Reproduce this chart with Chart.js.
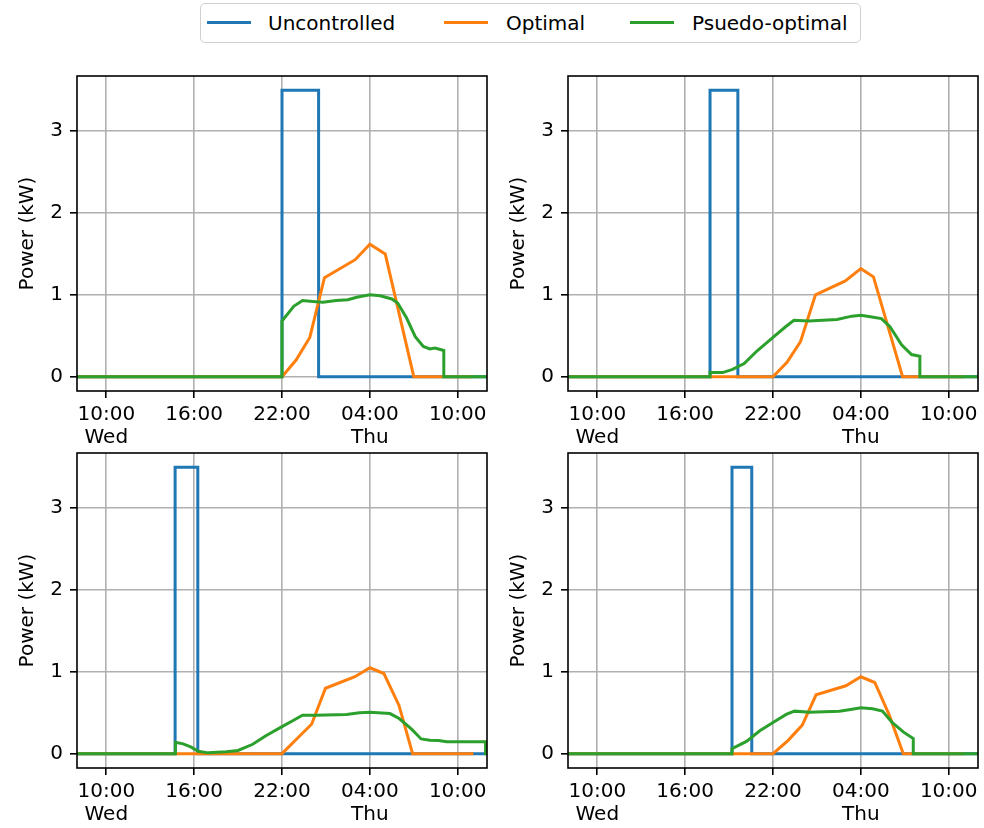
<!DOCTYPE html>
<html lang="en">
<head>
  <meta charset="UTF-8" />
  <title>Charging power profiles</title>
  <script src="https://cdn.jsdelivr.net/npm/chart.js"></script>
  <style>
    body { margin: 0; background: #fff; font-family: 'DejaVu Sans', sans-serif; }
    #fig { position: relative; width: 984px; height: 828px; overflow: hidden; }
    #fig canvas { position: absolute; }
    .legend-box {
      position: absolute; left: 200px; top: 3px; width: 659px; height: 38px;
      border: 1.5px solid #d0d0d0; border-radius: 5px; background: rgba(255,255,255,0.8);
    }
    .swatch { position: absolute; top: 21px; width: 44px; height: 3px; }
    .label { position: absolute; top: 3px; line-height: 40px; font-size: 20px; color: #000; white-space: nowrap; }
  </style>
</head>
<body>
  <div id="fig">
    <!-- legend shared by the four panels -->
    <div class="legend-box"></div>
    <div class="swatch" style="left:207px; background:#1f77b4"></div>
    <div class="label" style="left:268px">Uncontrolled</div>
    <div class="swatch" style="left:444px; background:#ff7f0e"></div>
    <div class="label" style="left:506px">Optimal</div>
    <div class="swatch" style="left:630px; background:#2ca02c"></div>
    <div class="label" style="left:692px">Psuedo-optimal</div>

    <canvas id="p1" width="492" height="381" style="left:0; top:70px"></canvas>
    <canvas id="p2" width="492" height="381" style="left:491px; top:70px"></canvas>
    <canvas id="p3" width="492" height="381" style="left:0; top:447px"></canvas>
    <canvas id="p4" width="492" height="381" style="left:491px; top:447px"></canvas>
  </div>

  <script>
    // hours counted from Wed 00:00 (so 28 = Thu 04:00)
    const xTicks = [10, 16, 22, 28, 34];
    const xTickLabels = [['10:00', 'Wed'], '16:00', '22:00', ['04:00', 'Thu'], '10:00'];
    const yTicks = [0, 1, 2, 3];

    // panel 1 (top left)
    const hoursUnc1 = [8, 22, 22, 24.5, 24.5, 36];
    const powerUnc1 = [0, 0, 3.5, 3.5, 0, 0];
    const hoursOpt1 = [8, 22, 22.95, 23.9, 24.9, 27, 28, 29.05, 31, 35.05];
    const powerOpt1 = [0, 0, 0.2, 0.48, 1.21, 1.43, 1.62, 1.5, 0, 0];
    const hoursPso1 = [8, 22, 22, 22.8, 23.4, 24.1, 24.8, 25.7, 26.5, 27.1, 28, 28.7, 29.5, 29.9, 30.5, 31.1, 31.65, 32.1, 32.45, 33.05, 33.05, 36];
    const powerPso1 = [0, 0, 0.68, 0.86, 0.93, 0.92, 0.91, 0.93, 0.94, 0.97, 1.0, 0.99, 0.95, 0.9, 0.72, 0.49, 0.37, 0.34, 0.35, 0.32, 0, 0];

    // panel 2 (top right)
    const hoursUnc2 = [8, 17.7, 17.7, 19.6, 19.6, 36];
    const powerUnc2 = [0, 0, 3.5, 3.5, 0, 0];
    const hoursOpt2 = [8, 22, 22.97, 23.88, 24.9, 26.94, 28, 28.86, 30.85, 35.05];
    const powerOpt2 = [0, 0, 0.18, 0.43, 1.0, 1.17, 1.32, 1.22, 0, 0];
    const hoursPso2 = [8, 17.7, 17.7, 18.56, 19.24, 20.03, 20.94, 22, 22.86, 23.43, 24.45, 26.37, 27.39, 28, 28.75, 29.4, 29.99, 30.78, 31.46, 32.03, 32.03, 36];
    const powerPso2 = [0, 0, 0.05, 0.05, 0.09, 0.16, 0.32, 0.48, 0.61, 0.69, 0.68, 0.7, 0.74, 0.75, 0.73, 0.71, 0.61, 0.39, 0.27, 0.25, 0, 0];

    // panel 3 (bottom left)
    const hoursUnc3 = [8, 14.7, 14.7, 16.25, 16.25, 36];
    const powerUnc3 = [0, 0, 3.5, 3.5, 0, 0];
    const hoursOpt3 = [8, 22, 23, 24.02, 24.97, 26.98, 28, 28.96, 29.99, 30.92, 35.07];
    const powerOpt3 = [0, 0, 0.18, 0.36, 0.8, 0.94, 1.05, 0.98, 0.59, 0, 0];
    const hoursPso3 = [8, 14.72, 14.72, 15.25, 15.8, 16.27, 16.96, 18.2, 19, 20, 20.9, 22, 22.7, 23.4, 24.3, 26.4, 27.3, 28, 29.37, 30, 30.85, 31.5, 32.1, 32.7, 33.24, 35.9, 35.9, 36];
    const powerPso3 = [0, 0, 0.14, 0.12, 0.08, 0.03, 0.01, 0.025, 0.04, 0.115, 0.22, 0.33, 0.4, 0.47, 0.47, 0.48, 0.5, 0.505, 0.49, 0.43, 0.3, 0.18, 0.165, 0.16, 0.145, 0.145, 0, 0];

    // panel 4 (bottom right)
    const hoursUnc4 = [8, 19.2, 19.2, 20.55, 20.55, 36];
    const powerUnc4 = [0, 0, 3.5, 3.5, 0, 0];
    const hoursOpt4 = [8, 22, 23.02, 24, 24.94, 26.98, 28, 28.95, 29.92, 30.9, 35.05];
    const powerOpt4 = [0, 0, 0.16, 0.35, 0.72, 0.83, 0.94, 0.87, 0.48, 0, 0];
    const hoursPso4 = [8, 19.2, 19.2, 20.19, 21.1, 22, 22.9, 23.47, 24.5, 26.53, 27.3, 28, 28.8, 29.47, 30.15, 30.94, 31.58, 31.58, 36];
    const powerPso4 = [0, 0, 0.06, 0.15, 0.28, 0.38, 0.48, 0.52, 0.505, 0.52, 0.54, 0.56, 0.55, 0.52, 0.38, 0.26, 0.185, 0, 0];

    Chart.defaults.font.family = "'DejaVu Sans', sans-serif";
    Chart.defaults.font.size = 20;
    Chart.defaults.color = '#000';

    const pts = (hours, power) => hours.map((h, i) => ({ x: h, y: power[i] }));

    const line = (hours, power, color, order) => ({
      data: pts(hours, power),
      showLine: true,
      borderColor: color,
      backgroundColor: color,
      borderWidth: 3,
      pointRadius: 0,
      tension: 0,
      order: order
    });

    // matplotlib style frame round the plot area
    const framePlugin = {
      id: 'frame',
      afterDatasetsDraw(chart) {
        const a = chart.chartArea;
        const ctx = chart.ctx;
        ctx.save();
        ctx.strokeStyle = '#000';
        ctx.lineWidth = 1.6;
        ctx.strokeRect(a.left, a.top, a.right - a.left, a.bottom - a.top);
        ctx.restore();
      }
    };

    const gridOpts = { color: '#b0b0b0', lineWidth: 1.6, tickLength: 7, tickColor: '#000', tickWidth: 1.6 };

    const makePanel = (id, unc, opt, pso) => {
      new Chart(document.getElementById(id), {
        type: 'scatter',
        data: {
          datasets: [
            line(unc[0], unc[1], '#1f77b4', 3),
            line(opt[0], opt[1], '#ff7f0e', 2),
            line(pso[0], pso[1], '#2ca02c', 1)
          ]
        },
        options: {
          responsive: false,
          animation: false,
          devicePixelRatio: 1,
          layout: { padding: { top: 6, right: 5, left: 0, bottom: 0 } },
          plugins: { legend: { display: false }, tooltip: { enabled: false } },
          scales: {
            x: {
              type: 'linear', min: 8, max: 36, bounds: 'data',
              afterBuildTicks: s => { s.ticks = xTicks.map(v => ({ value: v })); },
              afterFit: s => { s.height = 60; s.paddingLeft = 0; s.paddingRight = 0; },
              ticks: {
                autoSkip: false, maxRotation: 0, padding: 5,
                font: { size: 20, lineHeight: 1.165 },
                callback: (v, i) => xTickLabels[i]
              },
              grid: gridOpts,
              border: { display: false }
            },
            y: {
              min: -0.175, max: 3.675, bounds: 'data',
              afterBuildTicks: s => { s.ticks = yTicks.map(v => ({ value: v })); },
              afterFit: s => { s.width = 77; s.paddingTop = 0; s.paddingBottom = 0; },
              ticks: { padding: 7, callback: v => String(v) },
              title: { display: true, text: 'Power (kW)', font: { size: 20 }, padding: { top: 16, bottom: 0 } },
              grid: gridOpts,
              border: { display: false }
            }
          }
        },
        plugins: [framePlugin]
      });
    };

    makePanel('p1', [hoursUnc1, powerUnc1], [hoursOpt1, powerOpt1], [hoursPso1, powerPso1]);
    makePanel('p2', [hoursUnc2, powerUnc2], [hoursOpt2, powerOpt2], [hoursPso2, powerPso2]);
    makePanel('p3', [hoursUnc3, powerUnc3], [hoursOpt3, powerOpt3], [hoursPso3, powerPso3]);
    makePanel('p4', [hoursUnc4, powerUnc4], [hoursOpt4, powerOpt4], [hoursPso4, powerPso4]);
  </script>
</body>
</html>
